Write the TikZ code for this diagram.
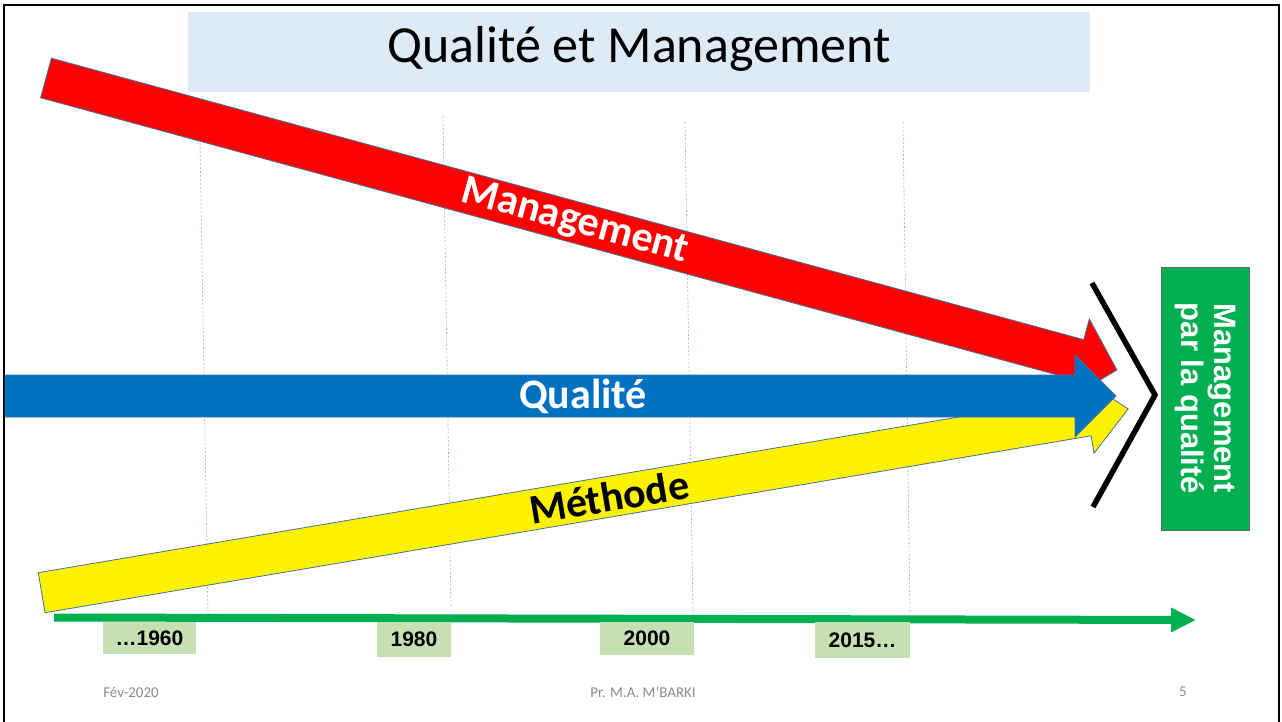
\documentclass[tikz,border=0pt]{standalone}
\usepackage{fontspec}
\setmainfont{Carlito}
\newfontfamily\arialfont{Liberation Sans}
\usetikzlibrary{arrows.meta}
\definecolor{titlebg}{HTML}{DEEAF6}
\definecolor{outl}{HTML}{41719C}
\definecolor{qblue}{HTML}{0070C0}
\definecolor{mgreen}{HTML}{00B050}
\definecolor{yearg}{HTML}{C6E0B4}
\definecolor{vlc}{HTML}{8EB4E3}
\definecolor{footgray}{HTML}{8C8C8C}
\tikzset{
  bigarrow/.style={draw=outl, line width=0.8pt, line join=miter},
  vline/.style={draw=vlc, line width=0.6pt, dash pattern=on 2pt off 2pt},
  arrowlabel/.style={font=\bfseries\fontsize{42}{42}\selectfont, inner sep=0pt},
  yearbox/.style={fill=yearg, inner sep=0pt, font=\arialfont\bfseries\fontsize{21}{21}\selectfont},
  foot/.style={text=footgray, font=\fontsize{15}{15}\selectfont, inner sep=0pt}
}
\begin{document}
\begin{tikzpicture}[x=1pt,y=-1pt]
\useasboundingbox (0,0) rectangle (1282,722);
\fill[white] (0,0) rectangle (1282,722);
% frame
\draw[line width=1.5pt] (4,722) -- (4,5) -- (1279,5) -- (1279,722);
% title
\node[fill=titlebg, minimum width=902pt, minimum height=80pt, inner sep=0pt] (titlebox) at (639,52) {};
\node[anchor=base, font=\fontsize{52}{52}\selectfont, inner sep=0pt] (title) at (639,63) {Qualité et Management};
% dotted vertical guides
\coordinate (v1a) at (200,143); \coordinate (v1b) at (208,612);
\coordinate (v2a) at (443,116); \coordinate (v2b) at (451,608);
\coordinate (v3a) at (685,122); \coordinate (v3b) at (693,613);
\coordinate (v4a) at (903,122); \coordinate (v4b) at (910,613);
\draw[vline] (v1a) -- (v1b);
\draw[vline] (v2a) -- (v2b);
\draw[vline] (v3a) -- (v3b);
\draw[vline] (v4a) -- (v4b);
% red arrow
\begin{scope}[shift={(46,78)}, rotate=-15.25]
\filldraw[bigarrow, fill=red] (0,-20.5) -- (1070,-20.5) -- (1070,-42) -- (1110,0) -- (1070,42) -- (1070,20.5) -- (0,20.5) -- cycle;
\end{scope}
% yellow arrow
\begin{scope}[shift={(41.65,592.7)}, rotate=9.6]
\filldraw[bigarrow, fill=yellow] (0,-20.3) -- (1061,-20.3) -- (1061,-38) -- (1102,0) -- (1061,38) -- (1061,20.3) -- (0,20.3) -- cycle;
\end{scope}
% blue arrow
\filldraw[bigarrow, fill=qblue] (5,375) -- (1075,375) -- (1075,355) -- (1116,396) -- (1075,437) -- (1075,417) -- (5,417) -- cycle;
% labels
\node[arrowlabel, text=white, rotate=-15.25] (mgmt) at (575,222) {Management};
\node[arrowlabel, text=white] (qual) at (583,396) {Qualité};
\node[arrowlabel, text=black, rotate=9.6] (meth) at (609,497) {Méthode};
% chevron
\coordinate (c1) at (1092,283); \coordinate (c2) at (1155,395); \coordinate (c3) at (1093,507);
\draw[line width=5.5pt, line join=miter] (c1) -- (c2) -- (c3);
% green box
\node[rotate=-90, draw=black!60, line width=0.8pt, fill=mgreen, text=white, minimum width=263pt, minimum height=88pt, inner sep=0pt, align=center, font=\arialfont\bfseries\fontsize{31}{33}\selectfont] (mpq) at (1205.5,398.5) {Management\\par la qualité};
% timeline
\coordinate (tl0) at (54,617.5); \coordinate (tl1) at (1196,620);
\draw[mgreen, line width=8pt, -{Triangle[length=25pt, width=23pt]}] (tl0) -- (tl1);
% year boxes
\node[yearbox, minimum width=93pt, minimum height=32pt] (y1960) at (149.5,638) {…1960};
\node[yearbox, minimum width=74pt, minimum height=35pt] (y1980) at (414,639.5) {1980};
\node[yearbox, minimum width=94pt, minimum height=33pt] (y2000) at (647,638.5) {2000};
\node[yearbox, minimum width=95pt, minimum height=36pt] (y2015) at (862.5,640) {2015…};
% footer
\node[foot] (date) at (131,692) {Fév-2020};
\node[foot] (auth) at (643,692) {Pr. M.A. M'BARKI};
\node[foot] (page) at (1183,692) {5};
\end{tikzpicture}
\end{document}
